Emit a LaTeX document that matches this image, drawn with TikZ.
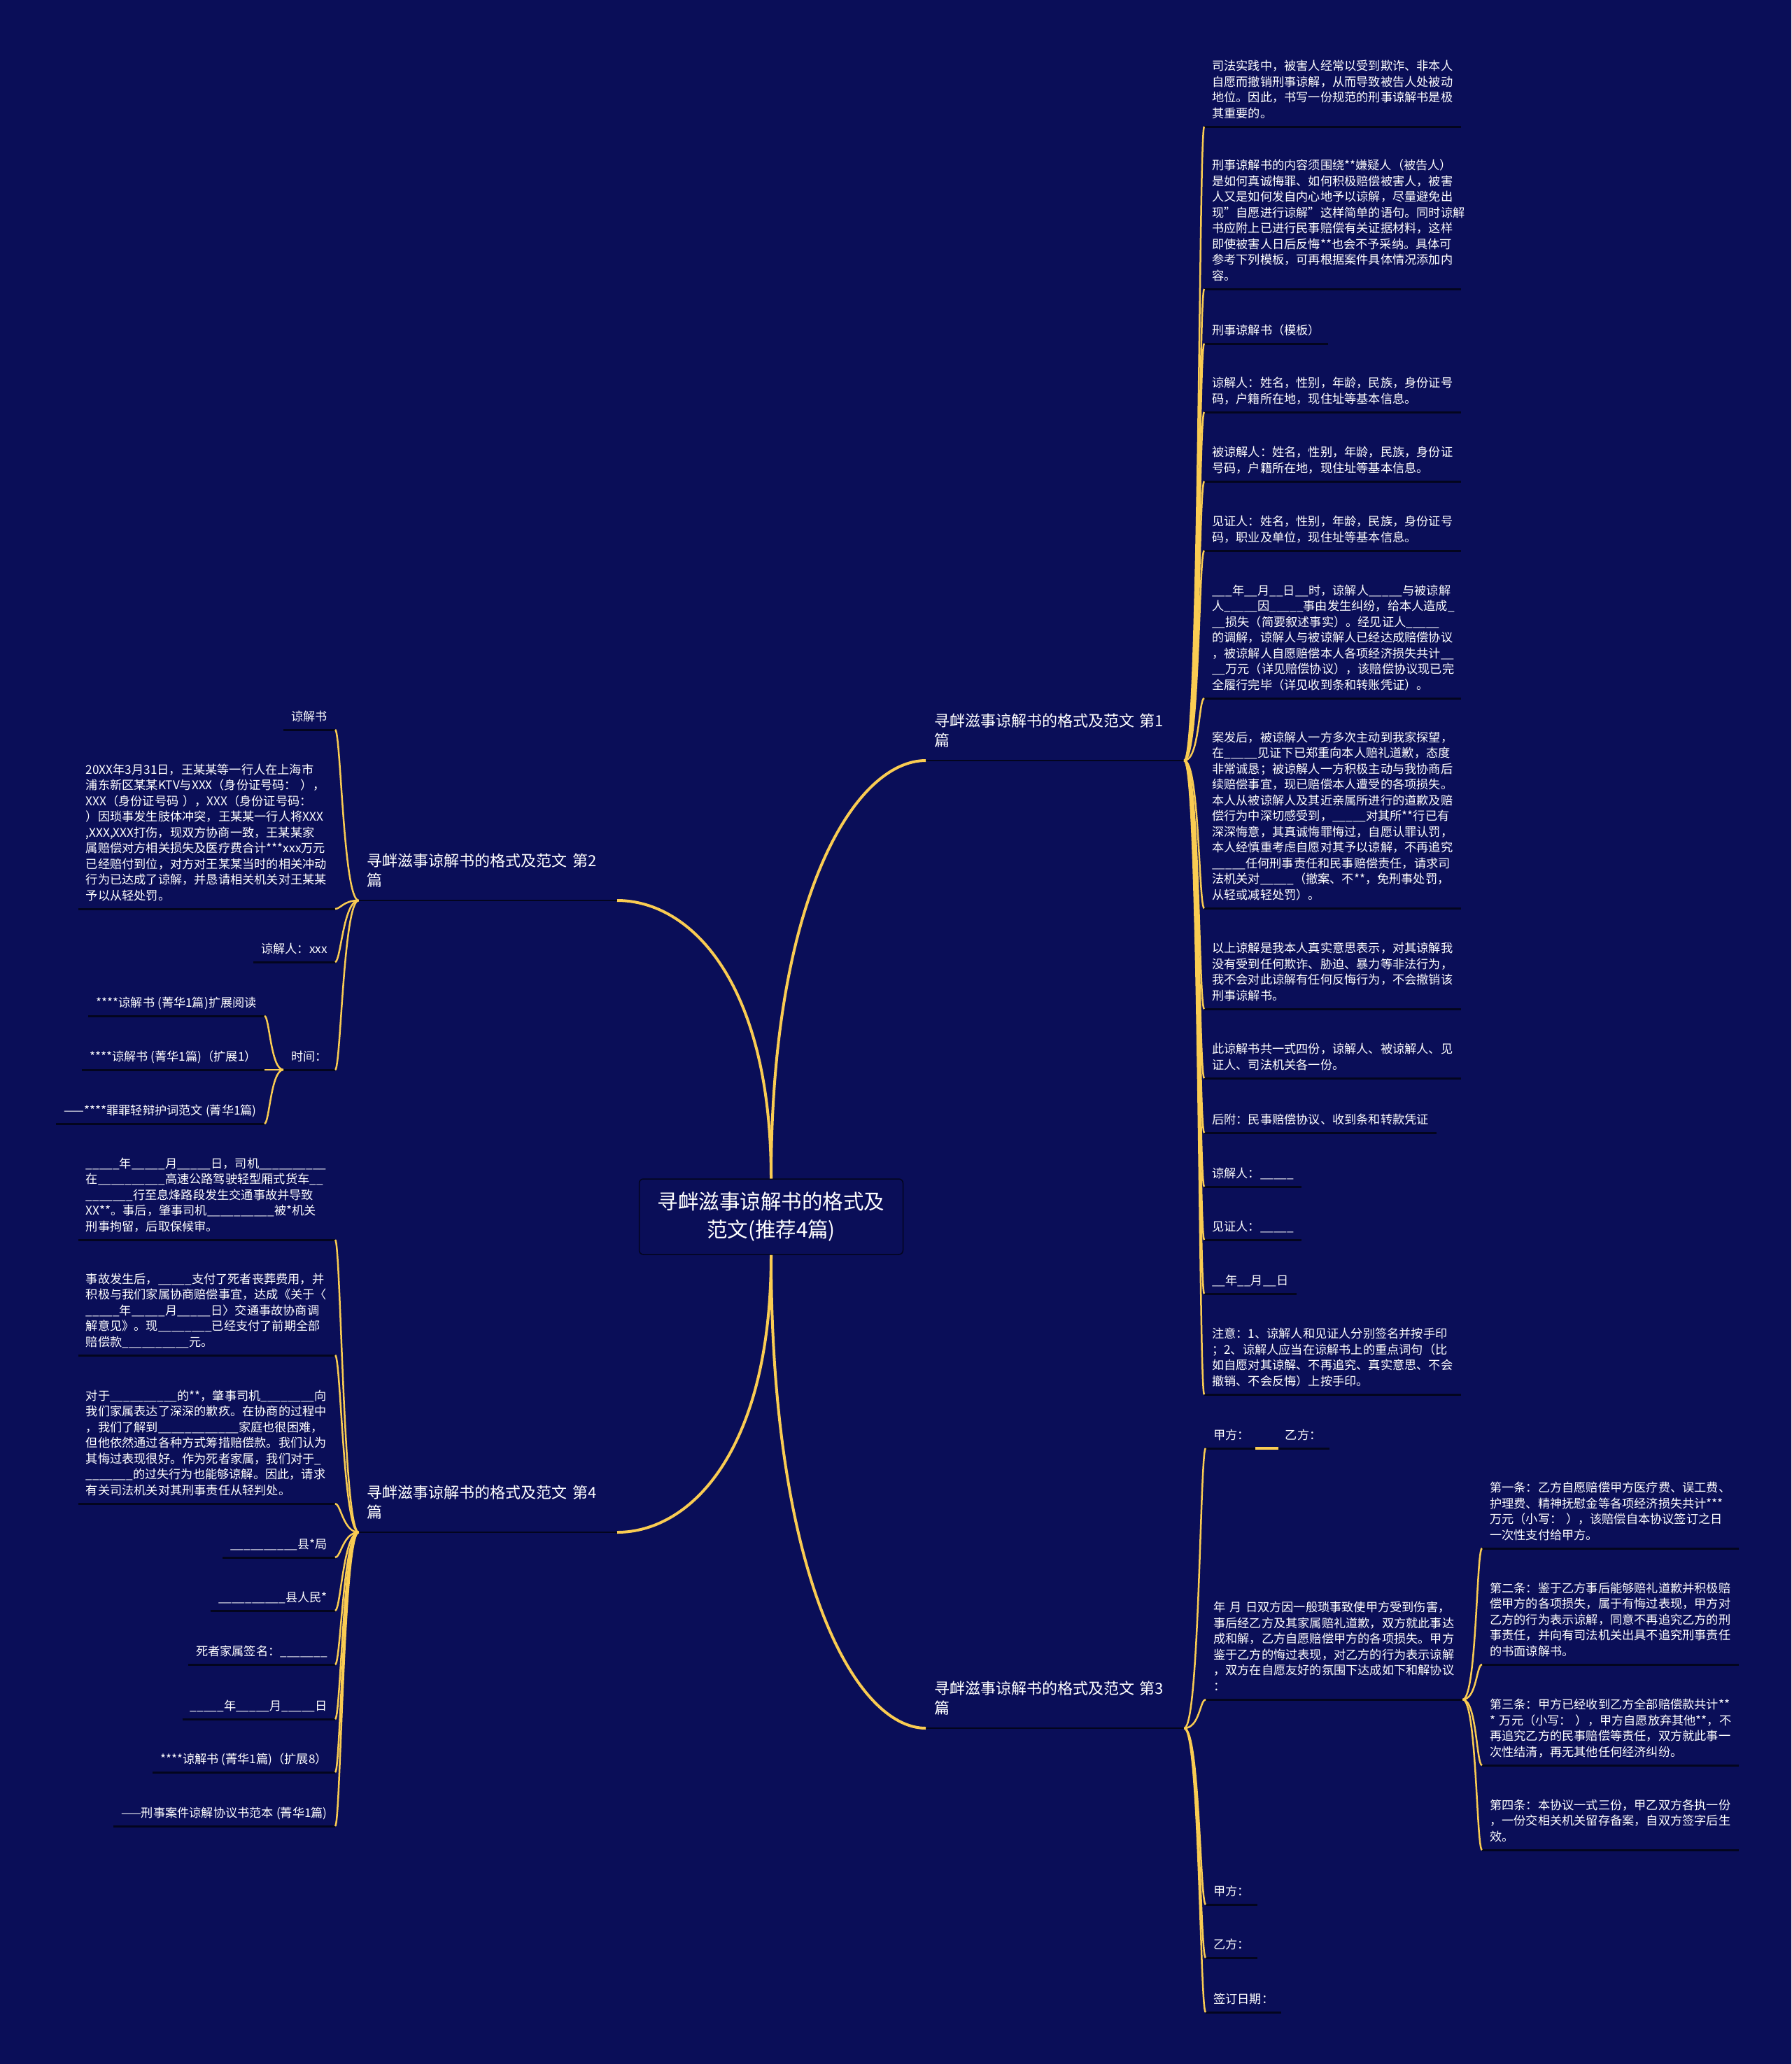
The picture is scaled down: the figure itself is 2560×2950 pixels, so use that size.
\documentclass[tikz,border=0pt]{standalone}
\usepackage{fontspec}
\setmainfont{Noto Sans CJK SC}[Ligatures=ResetAll]
\setlength{\parindent}{0pt}

\definecolor{bgblue}{RGB}{10,14,88}
\definecolor{gold}{RGB}{250,204,82}
\definecolor{lineblk}{RGB}{3,5,30}

% spazio da riempire
\newcommand{\bk}[1]{\foreach \bkn in {1,...,#1}{\textunderscore}}

\tikzset{
  rootbox/.style={draw=lineblk, fill=bgblue, line width=1.5pt, rounded corners=6pt, text=white,
    align=center, minimum width=377pt, minimum height=108pt, font=\fontsize{29.5}{40}\selectfont},
  branch/.style={text=white, text width=345pt, align=left, inner xsep=12pt, inner ysep=15.5pt,
    execute at end node={\rule[-5pt]{0pt}{5pt}}, font=\fontsize{22}{28}\selectfont},
  txt/.style={text=white, inner xsep=11pt, inner ysep=8.5pt, font=\fontsize{17.2}{22.5}\selectfont},
  leaf/.style={txt, text depth=4pt},
  para/.style={txt, text width=345pt, align=left, execute at end node={\rule[-4pt]{0pt}{4pt}}},
  bline/.style={draw=lineblk, line width=2pt},
  uline/.style={draw=lineblk, line width=3pt},
  trunk/.style={draw=gold, line width=4pt},
  twig/.style={draw=gold, line width=2.5pt}
}

\begin{document}
\begin{tikzpicture}[x=1pt, y=-1pt]
  % Sfondo
  \fill[bgblue] (0,0) rectangle (2560,2950);
  \useasboundingbox (0,0) rectangle (2560,2950);

  % Nodo centrale
  \node[rootbox] (cn) at (1102,1739) {寻衅滋事谅解书的格式及\\范文(推荐4篇)};

  % Rami
  \node[branch, anchor=south west] (b1) at (1323,1087) {寻衅滋事谅解书的格式及范文~第1\\篇};
  \node[branch, anchor=south east] (b2) at (882,1287) {寻衅滋事谅解书的格式及范文~第2\\篇};
  \node[branch, anchor=south west] (b3) at (1323,2470) {寻衅滋事谅解书的格式及范文~第3\\篇};
  \node[branch, anchor=south east] (b4) at (882,2190) {寻衅滋事谅解书的格式及范文~第4\\篇};

  % Foglie ramo 1
  \node[para, anchor=south west] (r1) at (1721,181) {司法实践中，被害人经常以受到欺诈、非本人\\自愿而撤销刑事谅解，从而导致被告人处被动\\地位。因此，书写一份规范的刑事谅解书是极\\其重要的。};
  \node[para, anchor=south west] (r2) at (1721,413) {刑事谅解书的内容须围绕**嫌疑人（被告人）\\是如何真诚悔罪、如何积极赔偿被害人，被害\\人又是如何发自内心地予以谅解，尽量避免出\\现"自愿进行谅解"这样简单的语句。同时谅解\\书应附上已进行民事赔偿有关证据材料，这样\\即使被害人日后反悔**也会不予采纳。具体可\\参考下列模板，可再根据案件具体情况添加内\\容。};
  \node[leaf, anchor=south west] (r3) at (1721,491) {刑事谅解书（模板）};
  \node[para, anchor=south west] (r4) at (1721,589) {谅解人：姓名，性别，年龄，民族，身份证号\\码，户籍所在地，现住址等基本信息。};
  \node[para, anchor=south west] (r5) at (1721,688) {被谅解人：姓名，性别，年龄，民族，身份证\\号码，户籍所在地，现住址等基本信息。};
  \node[para, anchor=south west] (r6) at (1721,787) {见证人：姓名，性别，年龄，民族，身份证号\\码，职业及单位，现住址等基本信息。};
  \node[para, anchor=south west] (r7) at (1721,998) {\bk{3}年\bk{2}月\bk{2}日\bk{2}时，谅解人\bk{5}与被谅解\\人\bk{5}因\bk{5}事由发生纠纷，给本人造成\bk{1}\\\bk{2}损失（简要叙述事实）。经见证人\bk{5}\\的调解，谅解人与被谅解人已经达成赔偿协议\\，被谅解人自愿赔偿本人各项经济损失共计\bk{2}\\\bk{2}万元（详见赔偿协议），该赔偿协议现已完\\全履行完毕（详见收到条和转账凭证）。};
  \node[para, anchor=south west] (r8) at (1721,1298) {案发后，被谅解人一方多次主动到我家探望，\\在\bk{5}见证下已郑重向本人赔礼道歉，态度\\非常诚恳；被谅解人一方积极主动与我协商后\\续赔偿事宜，现已赔偿本人遭受的各项损失。\\本人从被谅解人及其近亲属所进行的道歉及赔\\偿行为中深切感受到，\bk{5}对其所**行已有\\深深悔意，其真诚悔罪悔过，自愿认罪认罚，\\本人经慎重考虑自愿对其予以谅解，不再追究\\\bk{5}任何刑事责任和民事赔偿责任，请求司\\法机关对\bk{5}（撤案、不**，免刑事处罚，\\从轻或减轻处罚）。};
  \node[para, anchor=south west] (r9) at (1721,1442) {以上谅解是我本人真实意思表示，对其谅解我\\没有受到任何欺诈、胁迫、暴力等非法行为，\\我不会对此谅解有任何反悔行为，不会撤销该\\刑事谅解书。};
  \node[para, anchor=south west] (r10) at (1721,1541) {此谅解书共一式四份，谅解人、被谅解人、见\\证人、司法机关各一份。};
  \node[leaf, anchor=south west] (r11) at (1721,1619) {后附：民事赔偿协议、收到条和转款凭证};
  \node[leaf, anchor=south west] (r12) at (1721,1696) {谅解人：\bk{5}};
  \node[leaf, anchor=south west] (r13) at (1721,1772) {见证人：\bk{5}};
  \node[leaf, anchor=south west] (r14) at (1721,1849) {\bk{2}年\bk{2}月\bk{2}日};
  \node[para, anchor=south west] (r15) at (1721,1993) {注意：1、谅解人和见证人分别签名并按手印\\；2、谅解人应当在谅解书上的重点词句（比\\如自愿对其谅解、不再追究、真实意思、不会\\撤销、不会反悔）上按手印。};

  % Foglie ramo 3
  \node[leaf, anchor=south west] (t1) at (1723,2070) {甲方：\hspace{51pt}乙方：};
  \node[para, anchor=south west] (t2) at (1723,2429) {年~月~日双方因一般琐事致使甲方受到伤害，\\事后经乙方及其家属赔礼道歉，双方就此事达\\成和解，乙方自愿赔偿甲方的各项损失。甲方\\鉴于乙方的悔过表现，对乙方的行为表示谅解\\，双方在自愿友好的氛围下达成如下和解协议\\：};
  \node[leaf, anchor=south west] (t3) at (1723,2722) {甲方：};
  \node[leaf, anchor=south west] (t4) at (1723,2798) {乙方：};
  \node[leaf, anchor=south west] (t5) at (1723,2876) {签订日期：};
  \node[para, anchor=south west] (u1) at (2118,2213) {第一条：乙方自愿赔偿甲方医疗费、误工费、\\护理费、精神抚慰金等各项经济损失共计***\\万元（小写：~），该赔偿自本协议签订之日\\一次性支付给甲方。};
  \node[para, anchor=south west] (u2) at (2118,2379) {第二条：鉴于乙方事后能够赔礼道歉并积极赔\\偿甲方的各项损失，属于有悔过表现，甲方对\\乙方的行为表示谅解，同意不再追究乙方的刑\\事责任，并向有司法机关出具不追究刑事责任\\的书面谅解书。};
  \node[para, anchor=south west] (u3) at (2118,2523) {第三条：甲方已经收到乙方全部赔偿款共计**\\{}*~万元（小写：~），甲方自愿放弃其他**，不\\再追究乙方的民事赔偿等责任，双方就此事一\\次性结清，再无其他任何经济纠纷。};
  \node[para, anchor=south west] (u4) at (2118,2644) {第四条：本协议一式三份，甲乙双方各执一份\\，一份交相关机关留存备案，自双方签字后生\\效。};

  % Foglie ramo 2
  \node[leaf, anchor=south east] (l1) at (479,1043) {谅解书};
  \node[para, anchor=south east] (l2) at (479,1299) {20XX年3月31日，王某某等一行人在上海市\\浦东新区某某KTV与XXX（身份证号码：~），\\XXX（身份证号码~），XXX（身份证号码：\\）因琐事发生肢体冲突，王某某一行人将XXX\\,XXX,XXX打伤，现双方协商一致，王某某家\\属赔偿对方相关损失及医疗费合计***xxx万元\\已经赔付到位，对方对王某某当时的相关冲动\\行为已达成了谅解，并恳请相关机关对王某某\\予以从轻处罚。};
  \node[leaf, anchor=south east] (l3) at (479,1375) {谅解人：xxx};
  \node[leaf, anchor=south east] (l4) at (479,1529) {时间：};
  \node[leaf, anchor=south east] (m1) at (378,1452) {****谅解书~(菁华1篇)扩展阅读};
  \node[leaf, anchor=south east] (m2) at (378,1529) {****谅解书~(菁华1篇)（扩展1）};
  \node[leaf, anchor=south east] (m3) at (378,1606) {——****罪罪轻辩护词范文~(菁华1篇)};

  % Foglie ramo 4
  \node[para, anchor=south east] (d1) at (479,1772) {\bk{5}年\bk{5}月\bk{5}日，司机\bk{10}\\在\bk{10}高速公路驾驶轻型厢式货车\bk{2}\\\bk{7}行至息烽路段发生交通事故并导致\\XX**。事后，肇事司机\bk{10}被*机关\\刑事拘留，后取保候审。};
  \node[para, anchor=south east] (d2) at (479,1937) {事故发生后，\bk{5}支付了死者丧葬费用，并\\积极与我们家属协商赔偿事宜，达成《关于〈\\\bk{5}年\bk{5}月\bk{5}日〉交通事故协商调\\解意见》。现\bk{8}已经支付了前期全部\\赔偿款\bk{10}元。};
  \node[para, anchor=south east] (d3) at (479,2149) {对于\bk{10}的**，肇事司机\bk{8}向\\我们家属表达了深深的歉疚。在协商的过程中\\，我们了解到\bk{12}家庭也很困难，\\但他依然通过各种方式筹措赔偿款。我们认为\\其悔过表现很好。作为死者家属，我们对于\bk{1}\\\bk{7}的过失行为也能够谅解。因此，请求\\有关司法机关对其刑事责任从轻判处。};
  \node[leaf, anchor=south east] (d4) at (479,2226) {\bk{10}县*局};
  \node[leaf, anchor=south east] (d5) at (479,2302) {\bk{10}县人民*};
  \node[leaf, anchor=south east] (d6) at (479,2379) {死者家属签名：\bk{7}};
  \node[leaf, anchor=south east] (d7) at (479,2457) {\bk{5}年\bk{5}月\bk{5}日};
  \node[leaf, anchor=south east] (d8) at (479,2533) {****谅解书~(菁华1篇)（扩展8）};
  \node[leaf, anchor=south east] (d9) at (479,2610) {——刑事案件谅解协议书范本~(菁华1篇)};

  % Sottolineature
  \foreach \n in {b1,b2,b3,b4}
    \draw[bline] (\n.south west) -- (\n.south east);
  \foreach \n in {r1,r2,r3,r4,r5,r6,r7,r8,r9,r10,r11,r12,r13,r14,r15,t1,t2,t3,t4,t5,u1,u2,u3,u4,l1,l2,l3,l4,m1,m2,m3,d1,d2,d3,d4,d5,d6,d7,d8,d9}
    \draw[uline] (\n.south west) -- (\n.south east);
  \draw[gold, line width=4pt] ([xshift=71pt]t1.south west) -- ++(33,0);

  % Rami principali
  \draw[trunk] (cn.north) .. controls +(0,-405) and +(-100,0) .. (b1.south west);
  \draw[trunk] (cn.north) .. controls +(0,-280) and +(105,0) .. (b2.south east);
  \draw[trunk] (cn.south) .. controls +(0,460) and +(-100,0) .. (b3.south west);
  \draw[trunk] (cn.south) .. controls +(0,280) and +(105,0) .. (b4.south east);

  % Collegamenti alle foglie
  \foreach \n in {r1,r2,r3,r4,r5,r6,r7,r8,r9,r10,r11,r12,r13,r14,r15}
    \draw[twig] (b1.south east) .. controls +(22,0) and +(-8,0) .. (\n.south west);
  \foreach \n in {t1,t2,t3,t4,t5}
    \draw[twig] (b3.south east) .. controls +(22,0) and +(-8,0) .. (\n.south west);
  \foreach \n in {u1,u2,u3,u4}
    \draw[twig] (t2.south east) .. controls +(20,0) and +(-8,0) .. (\n.south west);
  \foreach \n in {l1,l2,l3,l4}
    \draw[twig] (b2.south west) .. controls +(-22,0) and +(8,0) .. (\n.south east);
  \foreach \n in {m1,m2,m3}
    \draw[twig] (l4.south west) .. controls +(-18,0) and +(7,0) .. (\n.south east);
  \foreach \n in {d1,d2,d3,d4,d5,d6,d7,d8,d9}
    \draw[twig] (b4.south west) .. controls +(-22,0) and +(8,0) .. (\n.south east);
\end{tikzpicture}
\end{document}
